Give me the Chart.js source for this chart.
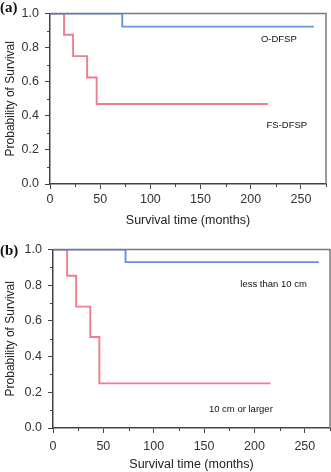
<!DOCTYPE html>
<html>
<head>
<meta charset="utf-8">
<script src="https://cdn.jsdelivr.net/npm/chart.js@4.4.1/dist/chart.umd.min.js"></script>
<style>
  html, body { margin: 0; padding: 0; background: #fff; }
  .panel { position: absolute; left: 0; width: 331px; height: 236px; }
  #panelA { top: 0; }
  #panelB { top: 236px; }
</style>
</head>
<body>
<div class="panel" id="panelA"><canvas id="chartA"></canvas></div>
<div class="panel" id="panelB"><canvas id="chartB"></canvas></div>
<script>
// ---- DATA ----
// (a) histologic type
const timeA_O = [0, 72, 263];
const survA_O = [1, 0.923, 0.923];
const timeA_FS = [0, 14, 23, 37, 46.5, 217];
const survA_FS = [1, 0.875, 0.75, 0.625, 0.469, 0.469];

// (b) tumour size
const timeB_small = [0, 72, 264];
const survB_small = [1, 0.929, 0.929];
const timeB_large = [0, 14, 23, 37, 46, 216];
const survB_large = [1, 0.853, 0.68, 0.51, 0.25, 0.25];

const xTicks = [0, 50, 100, 150, 200, 250];
const yTicks = [0, 0.2, 0.4, 0.6, 0.8, 1.0];

const BLUE = "#6b8fe6";
const RED = "#ee7d8d";
const FONT = "'Liberation Sans', Arial, sans-serif";

function toPoints(xs, ys) {
  return xs.map((x, i) => ({ x: x, y: ys[i] }));
}

// ---- PLUGIN: frame, minor ticks, labels ----
const survivalDecor = {
  id: "survivalDecor",
  afterDraw(chart, args, opts) {
    const { ctx, chartArea, scales } = chart;
    if (!chartArea) return;
    ctx.save();

    // top + right frame
    ctx.strokeStyle = "#7a7a7a";
    ctx.lineWidth = 1.5;
    ctx.beginPath();
    ctx.moveTo(chartArea.left, chartArea.top);
    ctx.lineTo(chartArea.right, chartArea.top);
    ctx.lineTo(chartArea.right, chartArea.bottom);
    ctx.stroke();

    // minor ticks halfway between majors
    ctx.strokeStyle = "#444";
    ctx.lineWidth = 1;
    ctx.beginPath();
    for (let i = 0; i < xTicks.length; i++) {
      const v = xTicks[i] + 25;
      if (v > scales.x.max) break;
      const px = Math.round(scales.x.getPixelForValue(v)) + 0.5;
      ctx.moveTo(px, chartArea.bottom);
      ctx.lineTo(px, chartArea.bottom + 3);
    }
    for (let i = 0; i < yTicks.length - 1; i++) {
      const py = Math.round(scales.y.getPixelForValue(yTicks[i] + 0.1)) + 0.5;
      ctx.moveTo(chartArea.left, py);
      ctx.lineTo(chartArea.left - 3, py);
    }
    ctx.stroke();

    // curve labels
    ctx.fillStyle = "#111";
    ctx.font = "9.5px " + FONT;
    ctx.textAlign = "center";
    ctx.textBaseline = "middle";
    (opts.labels || []).forEach(l => {
      ctx.fillText(l.text, scales.x.getPixelForValue(l.x), scales.y.getPixelForValue(l.y));
    });

    // panel letter
    ctx.font = "bold 15px 'Liberation Serif', 'Times New Roman', serif";
    ctx.textAlign = "left";
    ctx.fillText(opts.letter, 0, opts.letterY);
    ctx.restore();
  }
};

// ---- CHART ----
function makeChart(canvasId, curves, decor, pad, xAxis) {
  const canvas = document.getElementById(canvasId);
  return new Chart(canvas, {
    type: "line",
    data: {
      datasets: curves.map(c => ({
        data: toPoints(c.t, c.s),
        borderColor: c.color,
        borderWidth: 1.9,
        stepped: true,
        pointRadius: 0,
        fill: false
      }))
    },
    options: {
      responsive: true,
      maintainAspectRatio: false,
      animation: false,
      layout: { padding: pad },
      plugins: {
        legend: { display: false },
        tooltip: { enabled: false },
        survivalDecor: decor
      },
      scales: {
        x: {
          type: "linear",
          min: 0,
          max: 275,
          afterBuildTicks: s => { s.ticks = xTicks.map(v => ({ value: v })); },
          afterFit: s => { s.height = xAxis.height; },
          grid: { drawOnChartArea: false, tickLength: 5, tickColor: "#444" },
          border: { color: "#444", width: 1.5 },
          ticks: { color: "#333", font: { family: FONT, size: 12.5 }, padding: xAxis.tickPad, maxRotation: 0 },
          title: {
            display: true,
            text: "Survival time (months)",
            color: "#222",
            font: { family: FONT, size: 12.5 },
            padding: { top: 2, bottom: xAxis.titlePad }
          }
        },
        y: {
          min: 0,
          max: 1,
          afterBuildTicks: s => { s.ticks = yTicks.map(v => ({ value: v })); },
          afterFit: s => { s.width = decor.yWidth; },
          grid: { drawOnChartArea: false, tickLength: 5, tickColor: "#444" },
          border: { color: "#444", width: 1.5 },
          ticks: {
            color: "#333",
            font: { family: FONT, size: 12.5 },
            padding: 6,
            callback: v => v.toFixed(1)
          },
          title: {
            display: true,
            text: "Probability of Survival",
            color: "#222",
            font: { family: FONT, size: 12 },
            padding: { top: 3, bottom: 0 }
          }
        }
      }
    },
    plugins: [survivalDecor]
  });
}

makeChart("chartA", [
  { t: timeA_O, s: survA_O, color: BLUE },
  { t: timeA_FS, s: survA_FS, color: RED }
], {
  letter: "(a)",
  letterY: 8,
  yWidth: 50,
  labels: [
    { text: "O-DFSP", x: 228, y: 0.85 },
    { text: "FS-DFSP", x: 236, y: 0.343 }
  ]
}, { top: 5, right: 5, left: 0, bottom: 0 }, { height: 52, tickPad: 3, titlePad: 8 });

makeChart("chartB", [
  { t: timeB_small, s: survB_small, color: BLUE },
  { t: timeB_large, s: survB_large, color: RED }
], {
  letter: "(b)",
  letterY: 15,
  yWidth: 53,
  labels: [
    { text: "less than 10 cm", x: 219, y: 0.802 },
    { text: "10 cm or larger", x: 186.5, y: 0.102 }
  ]
}, { top: 13, right: 1, left: 0, bottom: 0 }, { height: 44, tickPad: 6, titlePad: 0 });
</script>
</body>
</html>
